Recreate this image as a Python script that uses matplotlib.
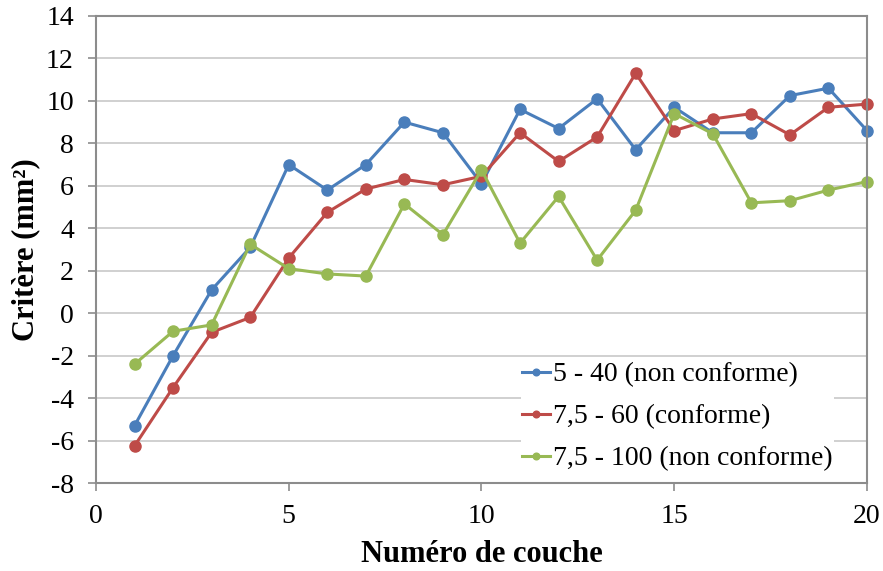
import matplotlib
matplotlib.use("Agg")
import matplotlib.pyplot as plt

# Layer numbers and criterion values (mm²)
couches = list(range(1, 21))
serie_5_40 = [-5.3, -2.0, 1.1, 3.1, 7.0, 5.8, 7.0, 9.0, 8.5, 6.1,
              9.6, 8.7, 10.1, 7.7, 9.7, 8.5, 8.5, 10.25, 10.6, 8.6]
serie_75_60 = [-6.25, -3.5, -0.9, -0.2, 2.6, 4.75, 5.85, 6.3, 6.05, 6.45,
               8.5, 7.15, 8.3, 11.3, 8.6, 9.15, 9.4, 8.4, 9.7, 9.85]
serie_75_100 = [-2.4, -0.85, -0.55, 3.25, 2.1, 1.85, 1.75, 5.15, 3.7, 6.75,
                3.3, 5.5, 2.5, 4.85, 9.4, 8.45, 5.2, 5.3, 5.8, 6.2]
labels = ["5 - 40 (non conforme)", "7,5 - 60 (conforme)", "7,5 - 100 (non conforme)"]

plt.rcParams['font.family'] = ['Liberation Serif', 'DejaVu Serif']
plt.rcParams['axes.unicode_minus'] = False

fig, ax = plt.subplots(figsize=(8.83, 5.71), dpi=100)
fig.subplots_adjust(left=0.1087, right=0.9819, top=0.972, bottom=0.154)

colors = ['#4a7ebb', '#be4b48', '#98b954']
for ys, c, lab in zip([serie_5_40, serie_75_60, serie_75_100], colors, labels):
    ax.plot(couches, ys, 'o-', color=c, lw=2.2, ms=8, label=lab, clip_on=False)

ax.set_xlim(0, 20)
ax.set_ylim(-8, 14)
ax.set_xticks(range(0, 21, 5))
ax.set_yticks(range(-8, 15, 2))
ax.yaxis.grid(True, color='#c8c8c8', lw=1.2)
ax.set_axisbelow(True)
for s in ax.spines.values():
    s.set_color('#8c8c8c')
    s.set_linewidth(1.5)
ax.tick_params(axis='both', labelsize=20, color='#8c8c8c', width=1.2, length=6)
ax.tick_params(axis='x', pad=9)
ax.tick_params(axis='y', pad=10)

ax.set_xlabel("Numéro de couche", fontsize=22, fontweight='bold', labelpad=8)
ax.set_ylabel("Critère (mm²)", fontsize=22, fontweight='bold', labelpad=4)

# white legend box hides the gridlines behind it, but stays under the spines
leg = ax.legend(loc='lower right', fontsize=20, bbox_to_anchor=(0.975, -0.008),
                frameon=True, facecolor='white', edgecolor='none', framealpha=1,
                fancybox=False, borderpad=0.05, handlelength=1.0,
                handletextpad=0.1, labelspacing=0.6, markerscale=0.6)
leg.set_zorder(2.4)

plt.savefig("out.png", dpi=100)
